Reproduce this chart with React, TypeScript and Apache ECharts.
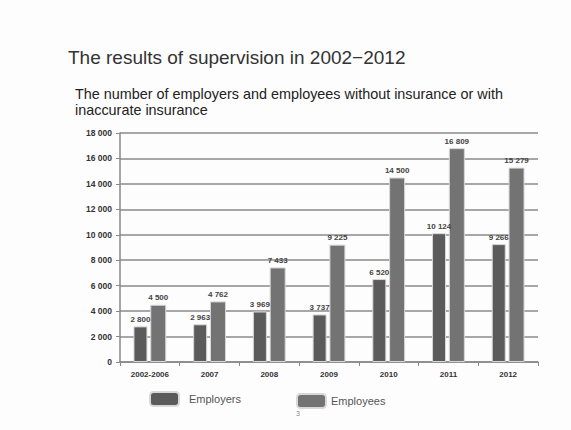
import React, { useEffect, useRef } from "react";
import * as echarts from "echarts";

const categories = ["2002-2006", "2007", "2008", "2009", "2010", "2011", "2012"];
const employers = [2800, 2963, 3969, 3737, 6520, 10124, 9266];
const employees = [4500, 4762, 7433, 9225, 14500, 16809, 15279];
const yTicks = [0, 2000, 4000, 6000, 8000, 10000, 12000, 14000, 16000, 18000];

const fmt = (v: number) => {
  const s = String(Math.round(v));
  return s.length > 3 ? s.slice(0, s.length - 3) + " " + s.slice(-3) : s;
};

export default function App() {
  const ref = useRef<HTMLDivElement>(null);
  useEffect(() => {
    document.body.style.margin = "0";
    const chart = echarts.init(ref.current!, null, { renderer: "svg" });
    const labelStyle = {
      show: true,
      position: "top" as const,
      distance: 3,
      fontFamily: "Liberation Sans",
      fontWeight: "bold" as const,
      fontSize: 8,
      color: "#444",
      formatter: (p: any) => fmt(p.value),
    };
    chart.setOption({
      animation: false,
      backgroundColor: "#fdfdfd",
      title: [
        {
          text: "The results of supervision in 2002\u22122012",
          left: 63,
          top: 43,
          textStyle: { fontFamily: "Liberation Sans", fontWeight: "normal", fontSize: 19, color: "#333" },
        },
        {
          text: "The number of employers and employees without insurance or with\ninaccurate insurance",
          left: 70,
          top: 81,
          textStyle: { fontFamily: "Liberation Sans", fontWeight: "normal", fontSize: 14.4, color: "#222", lineHeight: 16 },
        },
      ],
      legend: [
        {
          left: 149,
          top: 391,
          padding: 0,
          itemWidth: 29,
          itemHeight: 14,
          itemGap: 10,
          data: ["Employers"],
          textStyle: { fontFamily: "Liberation Sans", fontSize: 11, color: "#555", padding: [0, 0, 0, 5] },
        },
        {
          left: 296,
          top: 393,
          padding: 0,
          itemWidth: 29,
          itemHeight: 14,
          data: ["Employees"],
          textStyle: { fontFamily: "Liberation Sans", fontSize: 11, color: "#555", padding: [0, 0, 4, 0] },
        },
      ],
      graphic: [
        {
          type: "text",
          left: 296,
          top: 410,
          style: { text: "3", fontSize: 7, fill: "#888", fontFamily: "Liberation Sans" },
        },
      ],
      grid: { left: 120, right: 33, top: 133, bottom: 68 },
      xAxis: {
        type: "category",
        data: categories,
        axisLine: { lineStyle: { color: "#888", width: 1.5 } },
        axisTick: { show: true, length: 4, lineStyle: { color: "#888" } },
        axisLabel: { fontFamily: "Liberation Sans", fontWeight: "bold", fontSize: 8, color: "#333", margin: 8 },
      },
      yAxis: {
        type: "value",
        min: 0,
        max: 18000,
        interval: 2000,
        axisLine: { show: true, lineStyle: { color: "#888", width: 1.5 } },
        axisTick: { show: true, length: 4, lineStyle: { color: "#888" } },
        splitLine: { lineStyle: { color: "#8a8a8a", width: 1.5 } },
        axisLabel: {
          fontFamily: "Liberation Sans",
          fontWeight: "bold",
          fontSize: 8.5,
          color: "#333",
          margin: 8,
          formatter: (v: number) => (yTicks.includes(v) ? fmt(v) : ""),
        },
      },
      series: [
        {
          name: "Employers",
          type: "bar",
          data: employers,
          barWidth: 14,
          barGap: "20%",
          itemStyle: { color: "#5b5b5b", borderColor: "#d8d8d8", borderWidth: 1 },
          label: labelStyle,
        },
        {
          name: "Employees",
          type: "bar",
          data: employees,
          barWidth: 16,
          itemStyle: { color: "#737373", borderColor: "#d8d8d8", borderWidth: 1 },
          label: labelStyle,
        },
      ],
    });
    return () => chart.dispose();
  }, []);
  return <div ref={ref} style={{ position: "absolute", left: 0, top: 0, width: 571, height: 430 }} />;
}
